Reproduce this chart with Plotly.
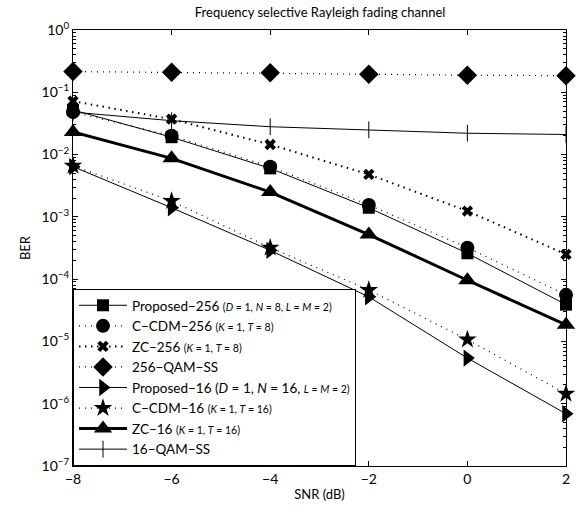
import plotly.graph_objects as go

snr = [-8, -6, -4, -2, 0, 2]

proposed_256 = [0.052, 0.019, 0.0060, 0.0014, 0.00026, 3.9e-5]
ccdm_256 = [0.048, 0.020, 0.0064, 0.00155, 0.00032, 5.6e-5]
zc_256 = [0.072, 0.037, 0.0145, 0.0048, 0.00124, 0.00025]
qam256_ss = [0.215, 0.21, 0.205, 0.195, 0.188, 0.185]
proposed_16 = [0.0064, 0.0014, 0.00029, 5.2e-5, 5.4e-6, 6.9e-7]
ccdm_16 = [0.0066, 0.0018, 0.00032, 6.7e-5, 1.07e-5, 1.44e-6]
zc_16 = [0.023, 0.0087, 0.0025, 0.00052, 9.6e-5, 1.85e-5]
qam16_ss = [0.048, 0.035, 0.028, 0.025, 0.022, 0.021]

x_ticks = [-8, -6, -4, -2, 0, 2]
x_ticktext = ["−8", "−6", "−4", "−2", "0", "2"]
y_tickvals = [1, 1e-1, 1e-2, 1e-3, 1e-4, 1e-5, 1e-6, 1e-7]
y_ticktext = ["10<sup>0</sup>", "10<sup>−1</sup>", "10<sup>−2</sup>", "10<sup>−3</sup>",
              "10<sup>−4</sup>", "10<sup>−5</sup>", "10<sup>−6</sup>", "10<sup>−7</sup>"]
y_minor = [m * 10.0 ** e for e in range(-7, 0) for m in range(2, 10)]

def sm(s):
    return '<span style="font-size:10.5px">' + s + '</span>'

names = [
    "Proposed−256 " + sm("(<i>D</i> = 1, <i>N</i> = 8, <i>L</i> = <i>M</i> = 2)"),
    "C−CDM−256 " + sm("(<i>K</i> = 1, <i>T</i> = 8)"),
    "ZC−256 " + sm("(<i>K</i> = 1, <i>T</i> = 8)"),
    "256−QAM−SS",
    "Proposed−16 (<i>D</i> = 1, <i>N</i> = 16, " + sm("<i>L</i> = <i>M</i> = 2)"),
    "C−CDM−16 " + sm("(<i>K</i> = 1, <i>T</i> = 16)"),
    "ZC−16 " + sm("(<i>K</i> = 1, <i>T</i> = 16)"),
    "16−QAM−SS",
]

series = [proposed_256, ccdm_256, zc_256, qam256_ss, proposed_16, ccdm_16, zc_16, qam16_ss]
DOT = "1px,5px"
styles = [
    dict(dash="solid", width=1, symbol="square", size=12),
    dict(dash=DOT, width=1.2, symbol="circle", size=14),
    dict(dash="1.5px,4.5px", width=2, symbol="x", size=10),
    dict(dash=DOT, width=1.2, symbol="diamond", size=15),
    dict(dash="solid", width=1, symbol="triangle-right", size=15),
    dict(dash=DOT, width=1.2, symbol="star", size=14),
    dict(dash="solid", width=3, symbol="triangle-up", size=16),
    dict(dash="solid", width=1, symbol="line-ns", size=12),
]

fig = go.Figure()
for name, ys, st in zip(names, series, styles):
    mk = dict(symbol=st["symbol"], size=st["size"], color="black",
              line=dict(color="black", width=1 if st["symbol"] == "line-ns" else 0))
    fig.add_trace(go.Scatter(
        x=snr, y=ys, name=name, mode="lines+markers", cliponaxis=False,
        line=dict(color="black", width=st["width"], dash=st["dash"]),
        marker=mk,
    ))

axis_common = dict(
    showline=True, linecolor="black", linewidth=1, mirror="ticks",
    ticks="inside", tickcolor="black", ticklen=5, showgrid=False, zeroline=False,
    tickfont=dict(family="Lato", size=14, color="black"),
)

fig.update_layout(
    width=582, height=512,
    margin=dict(l=73, r=13, t=30, b=41),
    paper_bgcolor="white", plot_bgcolor="white",
    font=dict(family="Lato", color="black", size=14),
    title=dict(text="Frequency selective Rayleigh fading channel", x=0.55, xanchor="center",
               y=0.985, yanchor="top", font=dict(family="Lato", size=13, color="black")),
    xaxis=dict(range=[-8, 2], tickvals=x_ticks, ticktext=x_ticktext,
               title=dict(text="SNR (dB)", standoff=4, font=dict(size=13)), **axis_common),
    yaxis=dict(type="log", range=[-7, 0], tickvals=y_tickvals, ticktext=y_ticktext,
               title=dict(text="BER", standoff=8, font=dict(size=13)),
               minor=dict(tickmode="array", tickvals=y_minor, ticks="inside", ticklen=3,
                          tickcolor="black", showgrid=False),
               **axis_common),
    legend=dict(x=0, y=0, xanchor="left", yanchor="bottom", bgcolor="white",
                bordercolor="black", borderwidth=1, itemwidth=48,
                font=dict(family="Lato", size=13.5, color="black"), tracegroupgap=0),
    showlegend=True,
)

fig.write_html("out.html", config={"displayModeBar": False},
               post_script="document.body.style.margin='0';document.body.style.overflow='hidden';")
